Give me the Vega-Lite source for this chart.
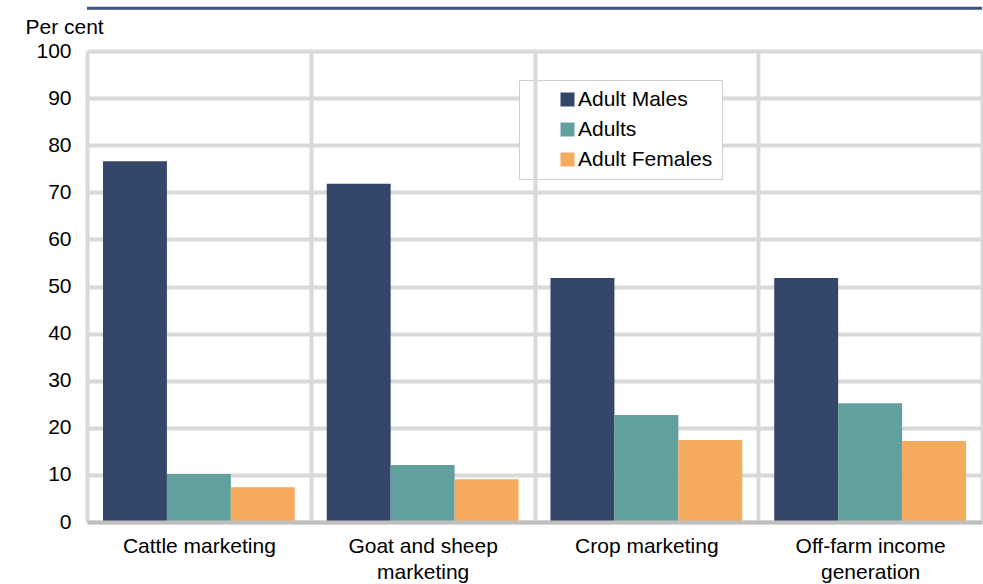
{
  "$schema": "https://vega.github.io/schema/vega-lite/v6.json",
  "width": 895,
  "height": 471,
  "autosize": {"type": "none"},
  "padding": {"left": 87, "top": 51, "right": 1, "bottom": 62},
  "background": "white",
  "config": {
    "font": "Liberation Sans",
    "view": {"stroke": null},
    "axis": {"labelFont": "Liberation Sans", "titleFont": "Liberation Sans", "labelColor": "#000000", "titleColor": "#000000"},
    "legend": {"labelFont": "Liberation Sans"}
  },
  "layer": [
    {
      "data": {"values": [
        {"category": "Cattle marketing", "group": "Adult Males", "value": 76.6},
        {"category": "Cattle marketing", "group": "Adults", "value": 10.2},
        {"category": "Cattle marketing", "group": "Adult Females", "value": 7.4},
        {"category": "Goat and sheep marketing", "group": "Adult Males", "value": 71.8},
        {"category": "Goat and sheep marketing", "group": "Adults", "value": 12.1},
        {"category": "Goat and sheep marketing", "group": "Adult Females", "value": 9.1},
        {"category": "Crop marketing", "group": "Adult Males", "value": 51.8},
        {"category": "Crop marketing", "group": "Adults", "value": 22.7},
        {"category": "Crop marketing", "group": "Adult Females", "value": 17.4},
        {"category": "Off-farm income generation", "group": "Adult Males", "value": 51.8},
        {"category": "Off-farm income generation", "group": "Adults", "value": 25.2},
        {"category": "Off-farm income generation", "group": "Adult Females", "value": 17.2}
      ]},
      "mark": {"type": "bar"},
      "encoding": {
        "x": {
          "field": "category",
          "type": "nominal",
          "sort": ["Cattle marketing", "Goat and sheep marketing", "Crop marketing", "Off-farm income generation"],
          "scale": {"paddingInner": 0, "paddingOuter": 0},
          "axis": {
            "title": null,
            "labelAngle": 0,
            "labelFontSize": 21,
            "labelPadding": 13,
            "labelLineHeight": 26,
            "labelExpr": "datum.label == 'Goat and sheep marketing' ? ['Goat and sheep', 'marketing'] : datum.label == 'Off-farm income generation' ? ['Off-farm income', 'generation'] : datum.label",
            "ticks": false,
            "grid": true,
            "tickBand": "extent",
            "gridColor": "#d9d9d9",
            "gridWidth": 4,
            "domain": true,
            "domainColor": "#bfbfbf",
            "domainWidth": 4,
            "zindex": 1
          }
        },
        "xOffset": {
          "field": "group",
          "type": "nominal",
          "sort": ["Adult Males", "Adults", "Adult Females"],
          "scale": {"paddingInner": 0, "paddingOuter": 0.25}
        },
        "y": {
          "field": "value",
          "type": "quantitative",
          "scale": {"domain": [0, 100], "nice": false},
          "axis": {
            "values": [0, 10, 20, 30, 40, 50, 60, 70, 80, 90, 100],
            "title": "Per cent",
            "titleAngle": 0,
            "titleAlign": "left",
            "titleBaseline": "alphabetic",
            "titleX": -62,
            "titleY": -18,
            "titleFontSize": 21,
            "titleFontWeight": "normal",
            "labelFontSize": 21,
            "labelPadding": 16,
            "ticks": false,
            "domain": false,
            "grid": true,
            "gridColor": "#d9d9d9",
            "gridWidth": 4
          }
        },
        "color": {
          "field": "group",
          "type": "nominal",
          "sort": ["Adult Males", "Adults", "Adult Females"],
          "scale": {"domain": ["Adult Males", "Adults", "Adult Females"], "range": ["#34466a", "#62a09e", "#f5aa5e"]},
          "legend": {
            "title": null,
            "orient": "none",
            "legendX": 432,
            "legendY": 29,
            "padding": 9,
            "strokeColor": "#cfcfcf",
            "fillColor": "white",
            "symbolType": "square",
            "symbolSize": 196,
            "symbolStrokeWidth": 0,
            "symbolOffset": 29,
            "labelOffset": 0,
            "labelFontSize": 21,
            "labelColor": "#000000",
            "labelLimit": 400,
            "rowPadding": 8,
            "labelExpr": "datum.label + '\u2003\u2003'"
          }
        }
      }
    },
    {
      "data": {"values": [{"line": "top"}]},
      "mark": {"type": "rule", "color": "#3e5382", "strokeWidth": 3, "clip": false},
      "encoding": {"y": {"datum": 109.1}}
    }
  ]
}
